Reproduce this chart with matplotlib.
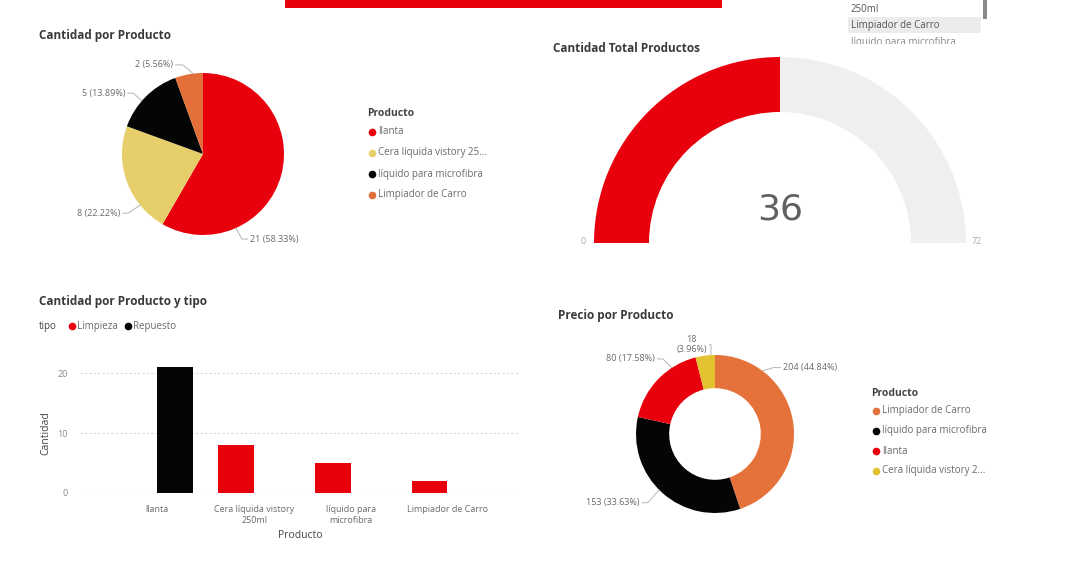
import textwrap
import numpy as np
import matplotlib
matplotlib.use("Agg")
import matplotlib.pyplot as plt
from matplotlib.patches import Wedge, Rectangle

plt.rcParams['font.family'] = ['Open Sans', 'DejaVu Sans']

# ---- data ----
productos = ['llanta', 'Cera líquida vistory 250ml', 'líquido para microfibra', 'Limpiador de Carro']
cantidad = [21, 8, 5, 2]
limpieza = [0, 8, 5, 2]
repuesto = [21, 0, 0, 0]
tipos = ['Limpieza', 'Repuesto']

precio_productos = ['Limpiador de Carro', 'líquido para microfibra', 'llanta', 'Cera líquida vistory 250ml']
precio = [204, 153, 80, 18]

gauge_value = 36
gauge_max = 72

slicer_items = ['250ml', 'Limpiador de Carro', 'líquido para microfibra']

# ---- style ----
RED = '#E8000D'
BLACK = '#050505'
YELLOW = '#E6CF6B'
ORANGE = '#E36F3B'
col_prod = {'llanta': RED, 'Cera líquida vistory 250ml': YELLOW,
            'líquido para microfibra': BLACK, 'Limpiador de Carro': ORANGE}
col_prod2 = dict(col_prod, **{'Cera líquida vistory 250ml': '#E3C232', 'Limpiador de Carro': '#E5723A'})
TITLE_C = '#3a3a3a'
TXT_C = '#6a6a6a'

W, H = 1068, 568
fig = plt.figure(figsize=(W / 100, H / 100), dpi=100)
fig.patch.set_facecolor('white')


def px_axes(x0, y0, x1, y1):
    return fig.add_axes([x0 / W, 1 - y1 / H, (x1 - x0) / W, (y1 - y0) / H])


def trunc(s, n):
    # legend cuts only the long names
    return s if len(s) <= 24 else s[:n] + '...'


# overlay in pixel coords for decorations and text
bg = fig.add_axes([0, 0, 1, 1])
bg.set_xlim(0, W)
bg.set_ylim(H, 0)
bg.axis('off')

# top banner + slicer remnant
bg.add_patch(Rectangle((285, 0), 437, 8, color=RED, lw=0))
bg.add_patch(Rectangle((848, 17), 133, 16, color='#ECECEC', lw=0))
bg.add_patch(Rectangle((983, 0), 4, 19, color='#8a8a8a', lw=0))
for i, it in enumerate(slicer_items):
    bg.text(851, 9 + i * 16.5, it, fontsize=7, color='#555' if i < 2 else '#888', va='center')
bg.add_patch(Rectangle((840, 44), 150, 10, color='white', lw=0, zorder=5))

# titles
bg.text(39, 35, 'Cantidad por Producto', fontsize=8.5, fontweight='bold', color=TITLE_C, va='center')
bg.text(553, 48, 'Cantidad Total Productos', fontsize=8.5, fontweight='bold', color=TITLE_C, va='center')
bg.text(39, 302, 'Cantidad por Producto y tipo', fontsize=8.5, fontweight='bold', color=TITLE_C, va='center')
bg.text(558, 315, 'Precio por Producto', fontsize=8.5, fontweight='bold', color=TITLE_C, va='center')


def pie_labels(ax, vals, layout):
    tot = sum(vals)
    for v, (ang, tx, ty, ha, edx) in zip(vals, layout):
        a = np.deg2rad(ang)
        s = -1 if ha == 'left' else 1
        ax.plot([np.cos(a), tx + s * edx, tx + s * 0.03], [np.sin(a), ty, ty],
                color='#aaaaaa', lw=0.6, clip_on=False)
        lbl = f'{v} ({v / tot * 100:.2f}%)'
        if v / tot < 0.05:
            lbl = f'{v}\n({v / tot * 100:.2f}%)'
        ax.text(tx, ty, lbl, fontsize=6.5, color=TXT_C, ha=ha, va='center',
                multialignment='center', clip_on=False)


def legend_block(x, y, names, colors, step, n):
    bg.text(x - 5, y, 'Producto', fontsize=7.5, fontweight='bold', color='#444', va='center')
    for i, nm in enumerate(names):
        yy = y + step * (i + 1) - 3
        bg.plot(x, yy, 'o', ms=4.5, color=colors[nm])
        bg.text(x + 6, yy, trunc(nm, n), fontsize=7, color=TXT_C, va='center')


# ---- pie: Cantidad por Producto ----
ax1 = px_axes(203 - 81, 154 - 81, 203 + 81, 154 + 81)
ax1.pie(cantidad, colors=[col_prod[p] for p in productos], startangle=90,
        counterclock=False, wedgeprops=dict(linewidth=0))
ax1.set_xlim(-1, 1)
ax1.set_ylim(-1, 1)
ax1.axis('off')
pie_labels(ax1, cantidad, [(-66, 0.58, -1.05, 'left', 0.1),
                           (219, -1.02, -0.73, 'right', 0.1),
                           (139, -0.96, 0.75, 'right', 0.1),
                           (97, -0.37, 1.10, 'right', 0.12)])
legend_block(372, 114, productos, col_prod, 21, 23)

# ---- gauge ----
ax2 = px_axes(585, 48, 975, 258)
ax2.set_xlim(-195, 195)
ax2.set_ylim(-15, 195)
ax2.set_aspect('equal')
ax2.axis('off')
split = 180 * (1 - gauge_value / gauge_max)
ax2.add_patch(Wedge((0, 0), 186, split, 180, width=55, color=RED, lw=0))
ax2.add_patch(Wedge((0, 0), 186, 0, split, width=55, color='#F0EFEF', lw=0))
ax2.text(0, 34, str(gauge_value), fontsize=26, color='#606060', ha='center', va='center',
         family=['Liberation Sans Narrow', 'DejaVu Sans'])
ax2.text(-197, 2, '0', fontsize=6.5, color='#aaa', ha='center', va='center')
ax2.text(197, 2, str(gauge_max), fontsize=6.5, color='#aaa', ha='center', va='center')

# ---- bar: Cantidad por Producto y tipo ----
ax3 = px_axes(80, 360, 520, 493)
ax3.patch.set_alpha(0)
x = np.arange(len(productos))
w = 0.37
ax3.bar(x - w / 2, limpieza, w, color=RED, lw=0)
ax3.bar(x + w / 2, repuesto, w, color=BLACK, lw=0)
ax3.set_xlim(-0.8, 3.75)
ax3.set_ylim(0, 22.2)
ax3.set_yticks([0, 10, 20])
ax3.set_xticks(x)
ax3.set_xticklabels([textwrap.fill(p, 20) for p in productos], fontsize=6.5, color=TXT_C)
ax3.tick_params(axis='y', length=0, pad=9, labelsize=6.5, labelcolor='#888')
ax3.tick_params(axis='x', length=0, pad=9)
ax3.yaxis.grid(True, linestyle=(0, (2, 2)), color='#d8d8d8', lw=0.8)
ax3.set_axisbelow(True)
for sp in ax3.spines.values():
    sp.set_visible(False)
bg.text(300, 536, 'Producto', fontsize=7.5, color='#444', ha='center', va='center')
bg.text(46, 433, 'Cantidad', fontsize=7.5, color='#444', ha='center', va='center', rotation=90)

bg.text(39, 326, 'tipo', fontsize=7, color='#444', va='center')
lx = 72
for t, c in zip(tipos, [RED, BLACK]):
    bg.plot(lx, 326, 'o', ms=4.5, color=c)
    bg.text(lx + 5, 326, t, fontsize=7, color=TXT_C, va='center')
    lx += 56

# ---- donut: Precio por Producto ----
ax4 = px_axes(715 - 79, 434 - 79, 715 + 79, 434 + 79)
ax4.pie(precio, colors=[col_prod2[p] for p in precio_productos], startangle=90,
        counterclock=False, wedgeprops=dict(width=0.42, linewidth=0))
ax4.set_xlim(-1, 1)
ax4.set_ylim(-1, 1)
ax4.axis('off')
pie_labels(ax4, precio, [(53, 0.86, 0.84, 'left', 0.12),
                         (225, -0.95, -0.87, 'right', 0.1),
                         (123, -0.76, 0.95, 'right', 0.1),
                         (93, -0.10, 1.13, 'right', 0.05)])
legend_block(876, 394, precio_productos, col_prod2, 20, 22)

fig.savefig('out.png', dpi=100, facecolor='white')
